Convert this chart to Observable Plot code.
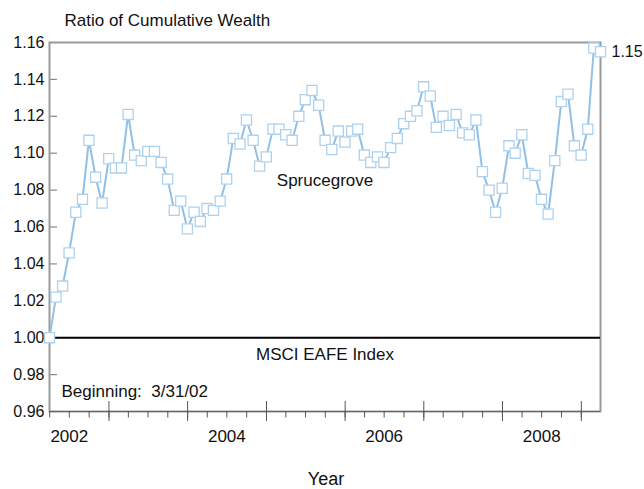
<!DOCTYPE html>
<html>
<head>
<meta charset="utf-8">
<script src="https://cdn.jsdelivr.net/npm/d3@7"></script>
<script src="https://cdn.jsdelivr.net/npm/@observablehq/plot@0.6"></script>
<style>
  html, body { margin: 0; padding: 0; background: #fff; }
  #chart svg { display: block; }
</style>
</head>
<body>
<div id="chart"></div>
<script>
// Monthly ratio of cumulative wealth, Sprucegrove vs MSCI EAFE, month-ends from 3/31/02
const firstMonthEnd = "2002-03-31";
const ratioValues = [
  1.000, 1.022, 1.028, 1.046, 1.068, 1.075, 1.107, 1.087, 1.073, 1.097,
  1.092, 1.092, 1.121, 1.099, 1.096, 1.101, 1.101, 1.095, 1.086, 1.069,
  1.074, 1.059, 1.068, 1.063, 1.070, 1.069, 1.074, 1.086, 1.108, 1.105,
  1.118, 1.107, 1.093, 1.098, 1.113, 1.113, 1.110, 1.107, 1.120, 1.129,
  1.134, 1.126, 1.107, 1.102, 1.112, 1.106, 1.112, 1.113, 1.099, 1.095,
  1.098, 1.095, 1.103, 1.108, 1.116, 1.120, 1.123, 1.136, 1.131, 1.114,
  1.120, 1.115, 1.121, 1.111, 1.110, 1.118, 1.090, 1.080, 1.068, 1.081,
  1.104, 1.100, 1.110, 1.089, 1.088, 1.075, 1.067, 1.096, 1.128, 1.132,
  1.104, 1.099, 1.113, 1.157, 1.155
];
const benchmarkValue = 1.00;
const yTicks = [0.96, 0.98, 1.00, 1.02, 1.04, 1.06, 1.08, 1.10, 1.12, 1.14, 1.16];
const yearLabels = ["2002", "2004", "2006", "2008"];
const xDomain = ["2002-03-31", "2009-03-31"];
const titleText = "Ratio of Cumulative Wealth";
const seriesName = "Sprucegrove";
const benchmarkName = "MSCI EAFE Index";
const beginningText = "Beginning:  3/31/02";
const endLabel = "1.15";
const xTitle = "Year";

// Build table
const start = new Date(firstMonthEnd);
const data = ratioValues.map((v, i) => ({
  date: d3.utcDay.offset(d3.utcMonth.offset(d3.utcDay.offset(start, 1), i), -1),
  value: v
}));
const domain = xDomain.map(d => new Date(d));
const majorTicks = d3.utcYear.range(domain[0], domain[1]).filter(d => d > domain[0]);
const minorTicks = d3.utcMonth.every(3).range(domain[0], domain[1]);
const labelDates = yearLabels.map(y => new Date(`${y}-07-01`));
const last = data[data.length - 1];

const W = 644, H = 489;
const mL = 49, mR = 44, mT = 42, mB = 78;
const plotW = W - mL - mR, plotH = H - mT - mB;
const ink = "#111";

const chart = Plot.plot({
  width: W,
  height: H,
  marginLeft: mL,
  marginRight: mR,
  marginTop: mT,
  marginBottom: mB,
  style: { fontFamily: "'Liberation Sans', Arial, sans-serif", fontSize: "16px", color: ink, background: "#fff" },
  x: { type: "utc", domain, axis: null },
  y: { domain: [0.96, 1.16], axis: null },
  marks: [
    // y tick labels
    Plot.axisY({ ticks: yTicks, tickFormat: d3.format(".2f"), tickSize: 0, tickPadding: 5, fontSize: 16, fill: ink, label: null }),
    // inward y ticks
    Plot.tickY(yTicks, { y: d => d, insetRight: plotW - 8, stroke: "#888", strokeWidth: 1.2 }),
    // frame (top, left, right)
    Plot.frame({ stroke: "#9a9a9a", strokeWidth: 2 }),
    // bottom axis line
    Plot.ruleY([0.96], { stroke: "#666", strokeWidth: 1.2 }),
    // minor x ticks
    Plot.tickX(minorTicks, { x: d => d, insetTop: plotH, insetBottom: -6.5, stroke: "#555", strokeWidth: 1 }),
    // major x ticks
    Plot.tickX(majorTicks, { x: d => d, insetTop: plotH - 10, insetBottom: -10, stroke: "#555", strokeWidth: 1 }),
    // year labels
    Plot.text(labelDates, { x: d => d, text: (d, i) => yearLabels[i], frameAnchor: "bottom", dy: 25, lineAnchor: "middle", fontSize: 17, fill: ink }),
    // benchmark line
    Plot.ruleY([benchmarkValue], { stroke: "#000", strokeWidth: 2 }),
    // series
    Plot.line(data, { x: "date", y: "value", stroke: "#92c0e4", strokeWidth: 2 }),
    Plot.dot(data, { x: "date", y: "value", symbol: "square", r: 5.7, fill: "#fff", stroke: "#aed2ee", strokeWidth: 1.3 }),
    // end label
    Plot.text([last], { x: "date", y: "value", text: () => endLabel, dx: 11, textAnchor: "start", lineAnchor: "middle", fontSize: 16, fill: ink }),
    // annotations
    Plot.text([titleText], { text: d => d, frameAnchor: "top-left", textAnchor: "start", lineAnchor: "middle", dx: 15, dy: -22, fontSize: 17, fill: ink }),
    Plot.text([seriesName], { text: d => d, frameAnchor: "top", lineAnchor: "middle", dx: 0, dy: 138, fontSize: 17, fill: ink }),
    Plot.text([benchmarkName], { text: d => d, frameAnchor: "bottom", lineAnchor: "middle", dx: 0, dy: -57, fontSize: 17, fill: ink }),
    Plot.text([beginningText], { text: d => d, frameAnchor: "bottom-left", textAnchor: "start", lineAnchor: "middle", dx: 12, dy: -20, fontSize: 17, fill: ink }),
    Plot.text([xTitle], { text: d => d, frameAnchor: "bottom", lineAnchor: "middle", dx: 1, dy: 68, fontSize: 18, fill: ink })
  ]
});
chart.querySelectorAll("text").forEach(t => t.setAttribute("xml:space", "preserve"));
document.getElementById("chart").appendChild(chart);
</script>
</body>
</html>
